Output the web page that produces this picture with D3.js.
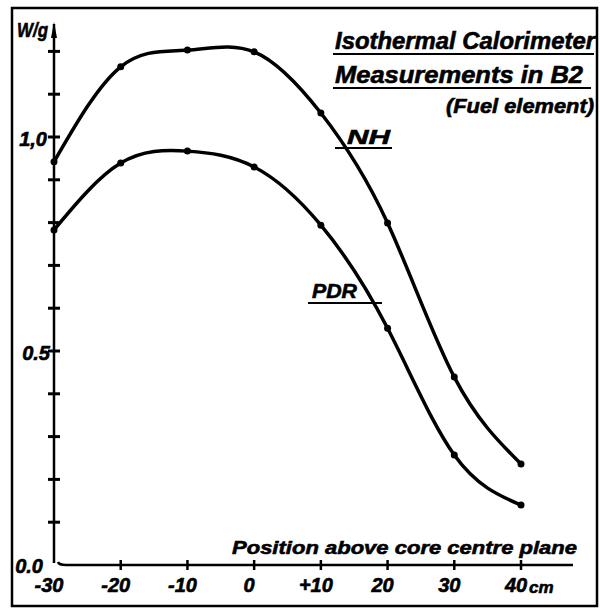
<!DOCTYPE html>
<html>
<head>
<meta charset="utf-8">
<script src="https://cdn.jsdelivr.net/npm/d3@7"></script>
<style>
  html, body { margin: 0; padding: 0; background: #fff; }
  svg text { font-family: "Liberation Sans", "DejaVu Sans", sans-serif; font-style: italic; font-weight: bold; fill: #000; stroke: #000; stroke-width: 0.6; }
</style>
</head>
<body>
<svg id="chart" width="600" height="610"></svg>
<script>
// ---- data ----
const positions = [-30, -20, -10, 0, 10, 20, 30, 40];
const nhValues  = [0.942, 1.164, 1.203, 1.199, 1.056, 0.799, 0.439, 0.236];
const pdrValues = [0.783, 0.939, 0.967, 0.930, 0.794, 0.553, 0.257, 0.140];
const xTickValues = [-30, -20, -10, 0, 10, 20, 30, 40];
const xTickLabels = ["-30", "-20", "-10", "0", "+10", "20", "30", "40"];
const yTickValues = [0.1, 0.2, 0.3, 0.4, 0.5, 0.6, 0.7, 0.8, 0.9, 1.0, 1.1, 1.2];
const yLabelValues = [0.0, 0.5, 1.0];
const yLabelTexts = ["0.0", "0.5", "1,0"];
const titleLines = ["Isothermal Calorimeter", "Measurements in B2", "(Fuel element)"];
const seriesNames = ["NH", "PDR"];
const xAxisTitle = "Position above core centre plane";
const xUnit = "cm";
const yUnit = "W/g";

const svg = d3.select("#chart");
const x = d3.scaleLinear().domain([-30, 40]).range([54, 521]);
const y = d3.scaleLinear().domain([0, 1]).range([565, 137]);

// frame
svg.append("rect").attr("x", 12).attr("y", 8).attr("width", 585).attr("height", 598)
  .attr("fill", "none").attr("stroke", "#000").attr("stroke-width", 2.5);

// y axis line with arrow tip
svg.append("line").attr("x1", x(-30)).attr("x2", x(-30)).attr("y1", y(0) - 2).attr("y2", 24)
  .attr("stroke", "#000").attr("stroke-width", 2.5);
svg.append("path").attr("d", `M${x(-30)-3},38 L${x(-30)},22 L${x(-30)+3},38 Z`).attr("fill", "#000");

// x axis line
svg.append("path").attr("d", `M${x(-30)+4},${y(0)-3} Q${x(-30)+5},${y(0)} ${x(-30)+12},${y(0)} L573,${y(0)}`)
  .attr("fill", "none").attr("stroke", "#000").attr("stroke-width", 2.5);

// y ticks (cross marks)
svg.append("g").selectAll("line").data(yTickValues).join("line")
  .attr("x1", x(-30) - 6).attr("x2", x(-30) + 6)
  .attr("y1", d => y(d)).attr("y2", d => y(d))
  .attr("stroke", "#000").attr("stroke-width", 3);

// x ticks
svg.append("g").selectAll("line").data(xTickValues.filter(d => d > -30)).join("line")
  .attr("x1", d => x(d)).attr("x2", d => x(d))
  .attr("y1", y(0) - 5).attr("y2", y(0) + 5)
  .attr("stroke", "#000").attr("stroke-width", 2.5);

// x tick labels
svg.append("g").selectAll("text").data(xTickValues).join("text")
  .attr("x", d => x(d) - 5).attr("y", 592)
  .attr("text-anchor", "middle").attr("font-size", 20)
  .text((d, i) => xTickLabels[i]);
svg.append("text").attr("x", 529).attr("y", 593).attr("font-size", 17).text(xUnit);

// y tick labels
svg.append("g").selectAll("text").data(yLabelValues).join("text")
  .attr("x", (d, i) => [43, 50, 47][i]).attr("y", d => y(d) + [8, 9, 9][yLabelValues.indexOf(d)])
  .attr("text-anchor", "end").attr("font-size", 20)
  .text((d, i) => yLabelTexts[i]);

// y unit
svg.append("text").attr("x", 17).attr("y", 37).attr("font-size", 21)
  .attr("textLength", 31).attr("lengthAdjust", "spacingAndGlyphs").text(yUnit);

// x axis title
svg.append("text").attr("x", 232).attr("y", 554).attr("font-size", 19)
  .attr("textLength", 345).attr("lengthAdjust", "spacingAndGlyphs").text(xAxisTitle);

// title
svg.append("text").attr("x", 335).attr("y", 49).attr("font-size", 24)
  .attr("textLength", 260).attr("lengthAdjust", "spacingAndGlyphs").text(titleLines[0]);
svg.append("line").attr("x1", 333).attr("x2", 594).attr("y1", 54).attr("y2", 54)
  .attr("stroke", "#000").attr("stroke-width", 2);
svg.append("text").attr("x", 335).attr("y", 83).attr("font-size", 24)
  .attr("textLength", 248).attr("lengthAdjust", "spacingAndGlyphs").text(titleLines[1]);
svg.append("line").attr("x1", 333).attr("x2", 591).attr("y1", 88).attr("y2", 88)
  .attr("stroke", "#000").attr("stroke-width", 2);
svg.append("text").attr("x", 446).attr("y", 113).attr("font-size", 20)
  .attr("textLength", 148).attr("lengthAdjust", "spacingAndGlyphs").text(titleLines[2]);

// series labels
svg.append("text").attr("x", 347).attr("y", 144).attr("font-size", 20)
  .attr("textLength", 43).attr("lengthAdjust", "spacingAndGlyphs").text(seriesNames[0]);
svg.append("line").attr("x1", 335).attr("x2", 392).attr("y1", 148).attr("y2", 148)
  .attr("stroke", "#000").attr("stroke-width", 2);
svg.append("text").attr("x", 312).attr("y", 298).attr("font-size", 20)
  .attr("textLength", 45).attr("lengthAdjust", "spacingAndGlyphs").text(seriesNames[1]);
svg.append("line").attr("x1", 308).attr("x2", 382).attr("y1", 303).attr("y2", 303)
  .attr("stroke", "#000").attr("stroke-width", 2);

// curves
const line = d3.line().x(d => x(d[0])).y(d => y(d[1])).curve(d3.curveNatural);
[nhValues, pdrValues].forEach(vals => {
  const pts = positions.map((p, i) => [p, vals[i]]);
  svg.append("path").attr("d", line(pts)).attr("fill", "none")
    .attr("stroke", "#000").attr("stroke-width", 3.5).attr("stroke-linecap", "round");
  svg.append("g").selectAll("circle").data(pts).join("circle")
    .attr("cx", d => x(d[0])).attr("cy", d => y(d[1])).attr("r", 3.5).attr("fill", "#000");
});
</script>
</body>
</html>
